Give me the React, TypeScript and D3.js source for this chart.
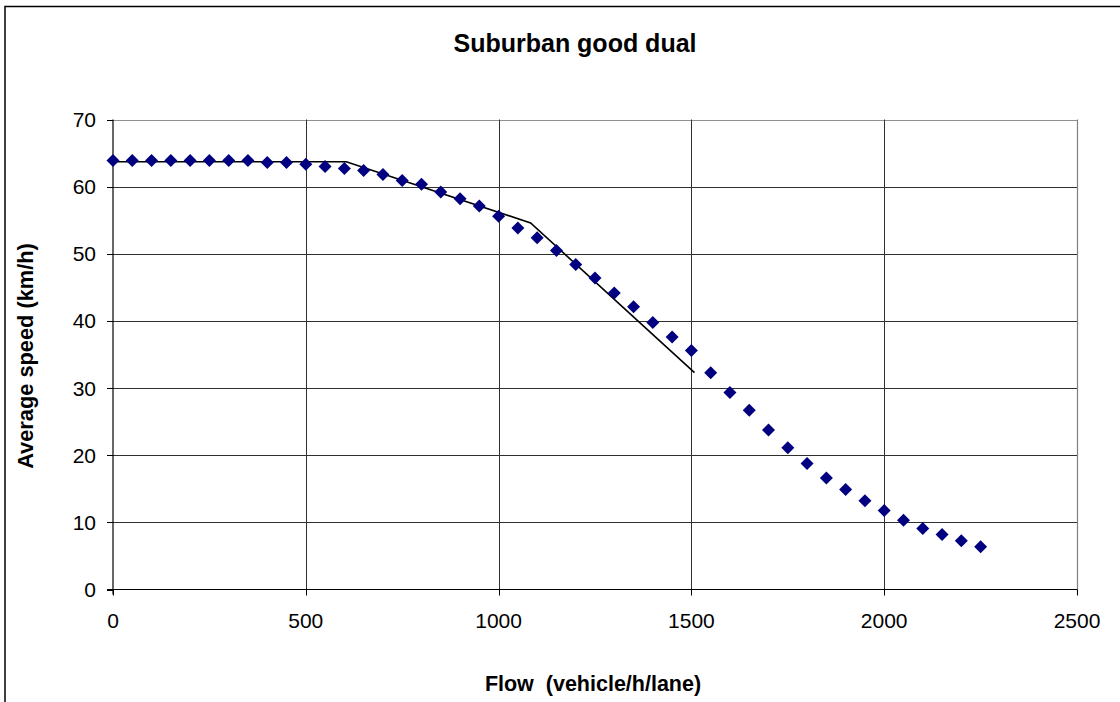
import React from "react";
import * as d3 from "d3";

const flows = [0, 50, 100, 150, 200, 250, 300, 350, 400, 450, 500, 550, 600, 650, 700, 750, 800, 850, 900, 950, 1000, 1050, 1100, 1150, 1200, 1250, 1300, 1350, 1400, 1450, 1500, 1550, 1600, 1650, 1700, 1750, 1800, 1850, 1900, 1950, 2000, 2050, 2100, 2150, 2200, 2250];
const speeds = [63.9, 63.9, 63.9, 63.9, 63.9, 63.9, 63.9, 63.9, 63.6, 63.6, 63.35, 63.0, 62.7, 62.4, 61.8, 60.9, 60.35, 59.2, 58.2, 57.1, 55.6, 53.85, 52.4, 50.5, 48.4, 46.4, 44.15, 42.1, 39.75, 37.6, 35.6, 32.3, 29.35, 26.7, 23.75, 21.1, 18.75, 16.6, 14.9, 13.2, 11.75, 10.3, 9.1, 8.2, 7.25, 6.35];

const modelFlows = [0, 605, 1083, 1508];
const modelSpeeds = [63.7, 63.7, 54.6, 32.3];

const xTicks = [0, 500, 1000, 1500, 2000, 2500];
const yTicks = [0, 10, 20, 30, 40, 50, 60, 70];

const title = "Suburban good dual";
const xLabel = "Flow  (vehicle/h/lane)";
const yLabel = "Average speed (km/h)";

export default function App() {
  const W = 1120, H = 702;
  const x = d3.scaleLinear().domain([0, 2500]).range([113, 1077]);
  const y = d3.scaleLinear().domain([0, 70]).range([589.5, 119.5]);
  const line = d3
    .line<number>()
    .x((_, i) => x(modelFlows[i]))
    .y((d) => y(d));
  const font = "'Liberation Sans', Arial, sans-serif";
  const r = 6.5;
  const diamond = `M0,${-r}L${r},0L0,${r}L${-r},0Z`;
  const x0 = x(0), x1 = x(2500), y0 = y(0), y1 = y(70);
  return (
    <svg width={W} height={H} style={{ position: "absolute", left: 0, top: 0, background: "#fff" }}>
      <rect x={0} y={0} width={W} height={H} fill="#fff" />
      <rect x={5} y={6.5} width={W + 20} height={H + 20} fill="none" stroke="#000" strokeWidth={1.5} />
      <text x={575} y={52} textAnchor="middle" fontFamily={font} fontWeight="bold" fontSize={25} fill="#000">
        {title}
      </text>
      {/* grid */}
      {yTicks.filter((t) => t > 0).map((t) => (
        <line key={"gy" + t} x1={x0} x2={x1} y1={Math.round(y(t)) + 0.5} y2={Math.round(y(t)) + 0.5} stroke={t === 70 ? "#909090" : "#303030"} strokeWidth={1} />
      ))}
      {xTicks.filter((t) => t > 0 && t < 2500).map((t) => (
        <line key={"gx" + t} y1={y0} y2={y1} x1={Math.round(x(t)) + 0.5} x2={Math.round(x(t)) + 0.5} stroke="#303030" strokeWidth={1} />
      ))}
      {/* plot border right */}
      <line x1={Math.round(x1) + 0.5} x2={Math.round(x1) + 0.5} y1={y1} y2={y0 + 5} stroke="#808080" strokeWidth={1.2} />
      {/* axes */}
      <line x1={x0} x2={x0} y1={y1} y2={y0 + 5} stroke="#000" strokeWidth={1.2} />
      <line x1={x0 - 6} x2={x1} y1={y0} y2={y0} stroke="#000" strokeWidth={1.2} />
      {yTicks.map((t) => (
        <g key={"ty" + t}>
          <line x1={x0 - 6} x2={x0} y1={Math.round(y(t)) + 0.5} y2={Math.round(y(t)) + 0.5} stroke="#000" strokeWidth={1} />
          <text x={96} y={y(t) + 7.5} textAnchor="end" fontFamily={font} fontSize={21} fill="#000">
            {t}
          </text>
        </g>
      ))}
      {xTicks.map((t) => (
        <g key={"tx" + t}>
          <line x1={Math.round(x(t)) + 0.5} x2={Math.round(x(t)) + 0.5} y1={y0} y2={y0 + 6} stroke="#000" strokeWidth={1} />
          <text x={x(t)} y={627.5} textAnchor="middle" fontFamily={font} fontSize={21} fill="#000">
            {t}
          </text>
        </g>
      ))}
      {/* model line */}
      <path d={line(modelSpeeds) || ""} fill="none" stroke="#000" strokeWidth={1.6} />
      {/* points */}
      {flows.map((f, i) => (
        <path key={"p" + f} d={diamond} transform={`translate(${x(f)},${y(speeds[i])})`} fill="#000080" />
      ))}
      <text x={593} y={691} textAnchor="middle" fontFamily={font} fontWeight="bold" fontSize={21.5} fill="#000" style={{ whiteSpace: "pre" }}>
        {xLabel}
      </text>
      <text transform={`translate(33,356) rotate(-90)`} textAnchor="middle" fontFamily={font} fontWeight="bold" fontSize={21.8} fill="#000">
        {yLabel}
      </text>
    </svg>
  );
}
